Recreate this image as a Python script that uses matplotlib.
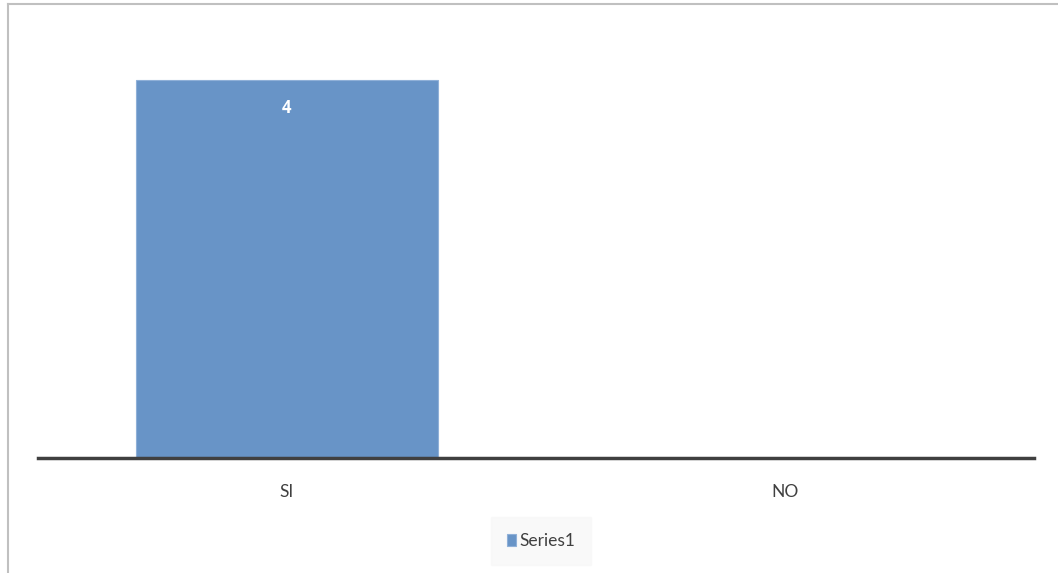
import numpy as np
import matplotlib.pyplot as plt

# ----- Dati -----
categorie = ["SI", "NO"]
valori = [4, 0]
serie = "Series1"

def main () :
    plt.rcParams['font.family'] = ['Lato', 'DejaVu Sans']

    fig = plt.figure(figsize=(10.58, 5.73), dpi=100)
    # cornice grigia del grafico (sinistra e sopra visibili)
    fig.add_artist(plt.Line2D([8/1058, 8/1058], [0, 1 - 4/573], color="#c0c0c0", lw=1.5))
    fig.add_artist(plt.Line2D([8/1058, 1], [1 - 4/573, 1 - 4/573], color="#c0c0c0", lw=1.5))

    ax = fig.add_axes([38/1058, 115/573, 996/1058, 416/573])
    x = np.arange(len(categorie))
    barre = ax.bar(x, valori, width=0.605, color="#6894c7", edgecolor="#8fb0d8",
                   linewidth=0.8, label=serie)

    for b, v in zip(barre, valori) :
        if v > 0 :
            ax.text(b.get_x() + b.get_width() / 2, v - 0.3, str(v), ha="center", va="center",
                    color="white", fontsize=12, fontweight="bold",
                    family=["Open Sans", "DejaVu Sans"])

    ax.set_xlim(-0.5, len(categorie) - 0.5)
    ax.set_ylim(0, 4.4)
    ax.set_xticks(x)
    ax.set_xticklabels(categorie, fontsize=12.5, color="#404040")
    ax.tick_params(axis="x", length=0, pad=19)
    ax.set_yticks([])
    for s in ["top", "right", "left"] :
        ax.spines[s].set_visible(False)
    ax.spines["bottom"].set_color("#404040")
    ax.spines["bottom"].set_linewidth(2.5)

    leg = ax.legend(loc="center", bbox_to_anchor=(541/1058, 1 - 541/573),
                    bbox_transform=fig.transFigure, frameon=True, fontsize=12.5,
                    handlelength=0.55, handleheight=0.75, handletextpad=0.2,
                    borderpad=0.9)
    leg.get_frame().set_facecolor("#f8f8f8")
    leg.get_frame().set_edgecolor("#f8f8f8")
    leg.get_frame().set_boxstyle("square", pad=0)
    for t in leg.get_texts() :
        t.set_color("#404040")

    plt.savefig("out.png", dpi=100)

if __name__ == '__main__' :
    main ()
